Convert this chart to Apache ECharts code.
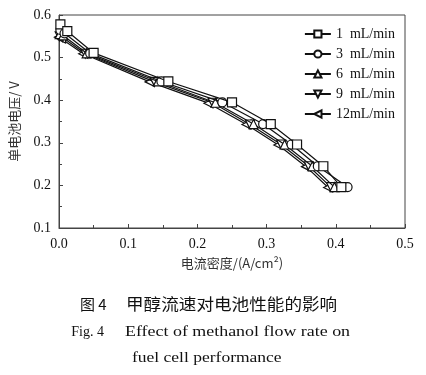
<!DOCTYPE html>
<html>
<head>
<meta charset="utf-8">
<script src="https://cdn.jsdelivr.net/npm/echarts@6/dist/echarts.min.js"></script>
<style>html,body{margin:0;padding:0;background:#fff;}#c{width:426px;height:375px;}</style>
</head>
<body>
<div id="c"></div>
<script>
const seriesNames = ['1  mL/min', '3  mL/min', '6  mL/min', '9  mL/min', '12mL/min'];
const s1 = [[0.002,0.578],[0.012,0.562],[0.050,0.511],[0.158,0.444],[0.250,0.395],[0.306,0.344],[0.344,0.296],[0.382,0.245],[0.408,0.196]];
const s3 = [[0.002,0.565],[0.008,0.557],[0.045,0.510],[0.148,0.444],[0.236,0.395],[0.295,0.344],[0.336,0.296],[0.374,0.245],[0.417,0.196]];
const s6 = [[0.001,0.555],[0.006,0.552],[0.040,0.510],[0.143,0.444],[0.226,0.394],[0.281,0.344],[0.326,0.296],[0.366,0.245],[0.398,0.196]];
const s9 = [[0.001,0.550],[0.005,0.548],[0.038,0.509],[0.138,0.443],[0.222,0.394],[0.276,0.343],[0.321,0.296],[0.361,0.245],[0.393,0.196]];
const s12 = [[0.000,0.548],[0.003,0.545],[0.035,0.509],[0.131,0.443],[0.216,0.393],[0.271,0.343],[0.317,0.295],[0.357,0.244],[0.389,0.195]];
const allData = [s1, s3, s6, s9, s12];
const symbols = ['rect', 'circle', 'triangle', 'triangle', 'triangle'];
const rotations = [0, 0, 0, 180, 90];
const xTicks = ['0.0','0.1','0.2','0.3','0.4','0.5'];
const yTicks = ['0.1','0.2','0.3','0.4','0.5','0.6'];

const serif = '"Liberation Serif", "DejaVu Serif", serif';
const cjk = '"Noto Sans CJK SC", sans-serif';

const chart = echarts.init(document.getElementById('c'));
chart.setOption({
  animation: false,
  backgroundColor: '#fff',
  grid: { left: 55, top: 15, right: 21, bottom: 147, show: true, borderColor: '#444', borderWidth: 1 },
  legend: {
    orient: 'vertical',
    right: 26, top: 22,
    itemWidth: 26, itemHeight: 9, itemGap: 6,
    textStyle: { fontFamily: serif, fontSize: 14, color: '#111' },
    data: seriesNames
  },
  xAxis: {
    type: 'value', min: 0, max: 0.5, interval: 0.1,
    name: '电流密度/(A/cm²)', nameLocation: 'middle', nameGap: 29,
    nameTextStyle: { fontFamily: cjk, fontSize: 13, color: '#333' },
    axisLine: { lineStyle: { color: '#444' } },
    axisTick: { inside: true, length: 4, lineStyle: { color: '#444' } },
    minorTick: { show: true, splitNumber: 2, length: 3, lineStyle: { color: '#444' } },
    splitLine: { show: false },
    axisLabel: { fontFamily: serif, fontSize: 14, color: '#111', margin: 9, formatter: (v) => xTicks[Math.round(v*10)] }
  },
  yAxis: {
    type: 'value', min: 0.1, max: 0.6, interval: 0.1,
    name: '单电池电压/ V', nameLocation: 'middle', nameGap: 38, nameRotate: 90,
    nameTextStyle: { fontFamily: cjk, fontSize: 13, color: '#333' },
    axisLine: { show: true, lineStyle: { color: '#444' } },
    axisTick: { show: true, inside: true, length: 4, lineStyle: { color: '#444' } },
    minorTick: { show: true, splitNumber: 2, length: 3, lineStyle: { color: '#444' } },
    splitLine: { show: false },
    axisLabel: { fontFamily: serif, fontSize: 14, color: '#111', margin: 8, formatter: (v) => yTicks[Math.round(v*10)-1] }
  },
  series: seriesNames.map((n, i) => ({
    name: n, type: 'line', data: allData[i],
    symbol: symbols[i], symbolSize: 9, symbolRotate: rotations[i],
    lineStyle: { color: '#111', width: 1.2 },
    itemStyle: { color: '#fff', borderColor: '#111', borderWidth: 1.2 },
    color: '#111',
    z: 10 - i
  })),
  graphic: [
    { type: 'text', x: 80, y: 304, style: { text: '图 4', fontFamily: cjk, fontSize: 15, fill: '#111', verticalAlign: 'middle', align: 'left' } },
    { type: 'text', x: 126, y: 304, scaleX: 1.1, style: { text: '甲醇流速对电池性能的影响', fontFamily: cjk, fontSize: 16, fill: '#111', verticalAlign: 'middle', align: 'left' } },
    { type: 'text', x: 104, y: 332, style: { text: 'Fig. 4', fontFamily: serif, fontSize: 14, fill: '#111', verticalAlign: 'middle', align: 'right' } },
    { type: 'text', x: 125, y: 332, scaleX: 1.28, style: { text: 'Effect of methanol flow rate on', fontFamily: serif, fontSize: 14, fill: '#111', verticalAlign: 'middle', align: 'left' } },
    { type: 'text', x: 132, y: 358, scaleX: 1.25, style: { text: 'fuel cell performance', fontFamily: serif, fontSize: 14, fill: '#111', verticalAlign: 'middle', align: 'left' } }
  ]
});
</script>
</body>
</html>
